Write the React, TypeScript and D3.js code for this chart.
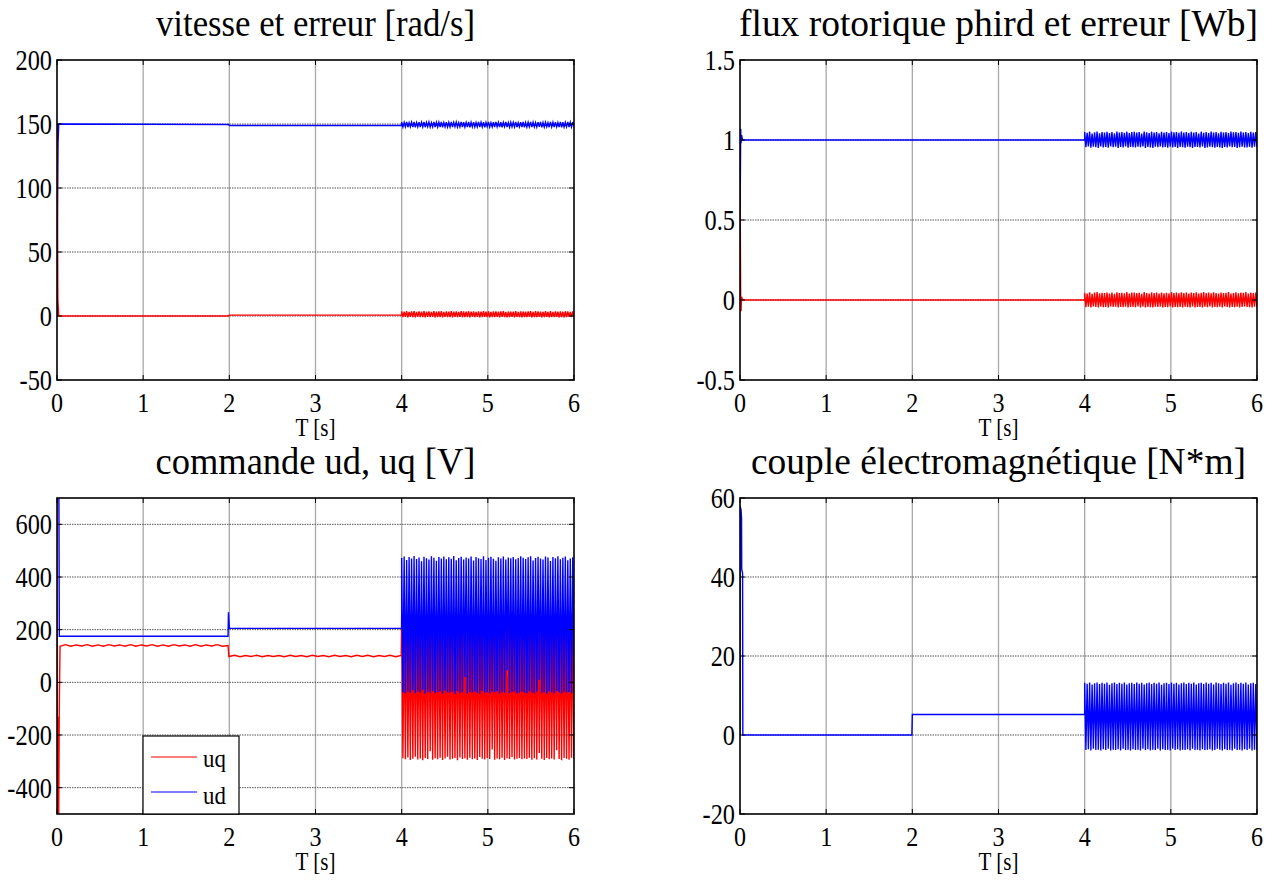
import React from 'react';
import * as d3 from 'd3';

type Pt = [number, number];

const FONT = "'Liberation Serif', 'DejaVu Serif', serif";

// ---------- shared ----------
const timeDomain = [0, 6];
const timeTicks = [0, 1, 2, 3, 4, 5, 6];
const xLabel = 'T [s]';
const titles = [
  'vitesse et erreur [rad/s]',
  'flux rotorique phird et erreur [Wb]',
  'commande ud, uq [V]',
  'couple électromagnétique [N*m]',
];
const legendLabels = ['uq', 'ud'];

// ---------- panel 1 : vitesse et erreur ----------
const speedYDomain = [-50, 200];
const speedYTicks = [-50, 0, 50, 100, 150, 200];
const speedT = [0, 0.003, 0.006, 0.012, 0.02, 1.99, 2.0, 4.0];
const speedV = [0, 0, 82, 135, 150, 149.6, 148.8, 148.8];
const speedOsc = [
  151.5, 147.6, 151.2, 147.8, 151.6, 147.5, 151.0, 147.9, 151.4, 147.6,
  151.7, 147.4, 151.1, 147.8, 151.5, 147.6, 151.3, 147.7, 151.6, 147.5,
  151.2, 147.9, 151.5, 147.6, 151.0, 147.8, 151.7, 147.5, 151.3, 147.7,
  151.4, 147.6, 151.6, 147.4, 151.1, 147.8, 151.5, 147.6, 151.2, 147.7,
  151.6, 147.5, 151.3, 147.9, 151.5, 147.6, 151.0, 147.8, 151.7, 147.5,
  151.4, 147.7, 151.2, 147.6, 151.6, 147.4, 151.3, 147.8, 151.5, 147.6,
  151.1, 147.8, 151.6, 147.5, 151.3, 147.7, 151.5, 147.4, 151.2, 147.9,
  151.7, 147.6, 151.0, 147.7, 151.4, 147.5, 151.6, 147.8, 151.3, 147.6,
  151.5, 147.4, 151.2, 147.9, 151.7, 147.6, 151.1, 147.5, 151.4, 147.8,
  151.3, 147.7, 151.6, 147.5, 151.0, 147.8, 151.5, 147.6, 151.7, 147.4,
  151.2, 147.6, 151.4, 147.9, 151.6, 147.5, 151.3, 147.7, 151.1, 147.6,
  151.5, 147.8, 151.7, 147.4, 151.2, 147.6, 151.4, 147.9, 151.0, 147.5,
  151.6, 147.7, 151.3, 147.5, 151.5, 147.8, 151.1, 147.6, 151.7, 147.4,
  151.4, 147.6, 151.2, 147.8, 151.6, 147.5, 151.3, 147.7, 151.5, 147.6,
];
const speedErrT = [0, 0.003, 0.005, 0.01, 0.02, 1.99, 2.0, 4.0];
const speedErrV = [150, 150, 67, 13, 0, 0, 0.7, 0.7];
const speedErrOsc = [
  3.5, -0.9, 3.3, -0.7, 3.7, -1.0, 3.1, -0.6, 3.5, -0.9,
  3.8, -1.1, 3.2, -0.7, 3.6, -0.9, 3.4, -0.8, 3.7, -1.0,
  3.3, -0.6, 3.6, -0.9, 3.1, -0.7, 3.8, -1.0, 3.4, -0.8,
  3.5, -0.9, 3.7, -1.1, 3.2, -0.7, 3.6, -0.9, 3.3, -0.8,
  3.7, -1.0, 3.4, -0.6, 3.6, -0.9, 3.1, -0.7, 3.8, -1.0,
  3.5, -0.8, 3.3, -0.9, 3.7, -1.1, 3.4, -0.7, 3.6, -0.9,
  3.2, -0.7, 3.6, -1.0, 3.4, -0.8, 3.8, -0.6, 3.3, -0.9,
  3.7, -1.1, 3.1, -0.8, 3.5, -0.9, 3.6, -0.7, 3.4, -1.0,
  3.6, -0.6, 3.8, -0.9, 3.2, -1.1, 3.5, -0.8, 3.3, -0.7,
  3.4, -1.0, 3.7, -0.7, 3.1, -0.9, 3.6, -1.1, 3.5, -0.8,
  3.3, -0.9, 3.5, -0.6, 3.8, -1.0, 3.2, -0.8, 3.7, -0.9,
  3.6, -0.7, 3.4, -1.1, 3.3, -0.9, 3.7, -0.6, 3.1, -1.0,
  3.8, -0.8, 3.2, -0.9, 3.6, -0.7, 3.4, -1.0, 3.5, -0.9,
  3.3, -1.1, 3.7, -0.8, 3.5, -0.6, 3.2, -0.9, 3.6, -0.7,
];

// ---------- panel 2 : flux rotorique ----------
const fluxYDomain = [-0.5, 1.5];
const fluxYTicks = [-0.5, 0, 0.5, 1, 1.5];
const fluxT = [0, 0.004, 0.008, 0.012, 0.018, 0.03, 4.0];
const fluxV = [0.3, 0.75, 1.07, 0.98, 1.03, 1.0, 1.0];
const fluxOsc = [
  1.050, 0.955, 1.045, 0.960, 1.052, 0.952, 1.040, 0.958, 1.048, 0.955,
  1.053, 0.950, 1.042, 0.960, 1.050, 0.954, 1.046, 0.957, 1.051, 0.952,
  1.044, 0.959, 1.049, 0.955, 1.041, 0.958, 1.053, 0.951, 1.047, 0.956,
  1.050, 0.954, 1.045, 0.960, 1.052, 0.952, 1.043, 0.957, 1.049, 0.955,
  1.051, 0.953, 1.046, 0.958, 1.050, 0.955, 1.040, 0.960, 1.053, 0.951,
  1.048, 0.956, 1.044, 0.954, 1.052, 0.950, 1.047, 0.958, 1.050, 0.955,
  1.042, 0.959, 1.051, 0.953, 1.046, 0.956, 1.049, 0.952, 1.044, 0.958,
  1.053, 0.954, 1.048, 0.957, 1.050, 0.951, 1.045, 0.956, 1.052, 0.955,
  1.046, 0.952, 1.050, 0.958, 1.043, 0.955, 1.051, 0.950, 1.047, 0.957,
  1.049, 0.956, 1.041, 0.953, 1.052, 0.959, 1.045, 0.951, 1.050, 0.954,
  1.044, 0.958, 1.053, 0.955, 1.047, 0.952, 1.050, 0.957, 1.042, 0.954,
  1.051, 0.950, 1.046, 0.956, 1.049, 0.953, 1.043, 0.959, 1.052, 0.955,
  1.048, 0.957, 1.050, 0.951, 1.045, 0.955, 1.053, 0.958, 1.046, 0.953,
  1.050, 0.954, 1.044, 0.956, 1.051, 0.952, 1.047, 0.958, 1.049, 0.955,
];
const fluxErrT = [0, 0.004, 0.008, 0.012, 0.018, 0.03, 4.0];
const fluxErrV = [0.73, 0.4, 0.0, -0.07, 0.02, 0.0, 0.0];
const fluxErrOsc = [
  0.045, -0.045, 0.040, -0.042, 0.048, -0.046, 0.038, -0.040, 0.046, -0.044,
  0.049, -0.047, 0.041, -0.041, 0.045, -0.045, 0.043, -0.043, 0.047, -0.046,
  0.040, -0.040, 0.046, -0.044, 0.039, -0.042, 0.048, -0.047, 0.044, -0.043,
  0.045, -0.045, 0.042, -0.041, 0.049, -0.046, 0.040, -0.043, 0.046, -0.044,
  0.047, -0.045, 0.043, -0.040, 0.045, -0.046, 0.038, -0.041, 0.049, -0.047,
  0.044, -0.043, 0.041, -0.045, 0.048, -0.046, 0.043, -0.042, 0.046, -0.044,
  0.040, -0.041, 0.047, -0.046, 0.042, -0.043, 0.045, -0.045, 0.041, -0.040,
  0.049, -0.047, 0.044, -0.043, 0.046, -0.045, 0.042, -0.044, 0.048, -0.046,
  0.043, -0.042, 0.047, -0.045, 0.040, -0.047, 0.046, -0.041, 0.044, -0.046,
  0.048, -0.044, 0.041, -0.043, 0.045, -0.047, 0.049, -0.042, 0.043, -0.045,
  0.046, -0.040, 0.042, -0.046, 0.048, -0.043, 0.044, -0.045, 0.040, -0.042,
  0.047, -0.046, 0.043, -0.041, 0.045, -0.044, 0.049, -0.047, 0.041, -0.043,
  0.044, -0.045, 0.048, -0.042, 0.042, -0.046, 0.046, -0.044, 0.045, -0.041,
  0.049, -0.043, 0.040, -0.045, 0.047, -0.046, 0.043, -0.042, 0.046, -0.045,
];

// ---------- panel 3 : commande ud, uq ----------
const cmdYDomain = [-500, 700];
const cmdYTicks = [-400, -200, 0, 200, 400, 600];
const uqStartT = [0, 0.002, 0.006, 0.009, 0.012, 0.016, 0.02, 0.026];
const uqStartV = [700, -500, -500, -130, -450, -250, -500, -120];
const uqRipple1 = [
  137, 143, 137, 142, 138, 143, 137, 142, 137, 143, 138, 142, 137, 143, 137, 142,
  138, 143, 137, 142, 137, 143, 138, 142, 137, 143, 137, 142, 138, 143, 137, 140,
];
const uqRipple2 = [
  98, 103, 97, 102, 98, 103, 97, 102, 98, 102, 97, 103, 98, 102, 97, 103,
  98, 102, 97, 103, 98, 102, 97, 103, 98, 103, 97, 102, 98, 103, 97, 102,
];
const uqOsc = [
  255, -288, 248, -292, 258, -285, 240, -295, 252, -290, 257, -283, 245, -293, 250, -289, 256, -296, 243, -287,
  253, -291, 258, -262, 247, -294, 251, -288, 255, -292, 242, -286, 257, -295, 249, -289, 254, -283, 246, -293,
  258, -290, 244, -287, 252, -296, 256, -285, 248, -291, 253, -288, 241, -294, 257, -286, 250, -292, 255, -289,
  245, -295, 252, -284, 258, -290, 247, -293, 254, -287, 249, -291, 256, -255, 243, -294, 251, -289, 257, -292,
  246, -286, 253, -295, 255, -288, 248, -291, 258, -284, 244, -293, 252, -290, 256, -287, 250, -292, 254, -289,
  257, -291, 243, -286, 251, -294, 255, -288, 249, -293, 258, -268, 246, -290, 253, -295, 242, -287, 256, -292,
  250, -289, 254, -293, 247, -258, 258, -291, 244, -296, 252, -287, 256, -290, 248, -294, 253, -286, 255, -291,
];
const udT = [0, 0.022, 0.027, 1.985, 1.99, 2.0, 4.0];
const udV = [700, 700, 175, 175, 266, 205, 205];
const udOsc = [
  472, -38, 478, -42, 465, -35, 476, -40, 470, -30, 480, -41, 468, -36, 474, -39, 460, -28, 477, -42,
  471, -37, 466, -40, 479, -33, 473, -41, 462, -38, 476, -35, 470, -42, 478, -31, 467, -39, 475, -40,
  469, -36, 480, -43, 464, -34, 472, -41, 477, -38, 466, 20, 474, -42, 470, -37, 478, -40, 463, -35,
  476, -39, 471, -42, 468, -33, 479, -40, 465, -38, 473, -41, 477, -36, 469, -39, 462, -34, 475, -42,
  470, -37, 478, -40, 466, 45, 474, -41, 471, -38, 476, -35, 467, -42, 472, -39, 479, -36, 473, -40,
  468, -41, 475, -34, 479, -39, 463, -42, 472, -36, 477, 10, 470, -40, 466, -38, 478, -43, 474, -35,
  461, -39, 476, -41, 471, -33, 479, -38, 467, -42, 473, -36, 478, -40, 464, -37, 470, -41, 475, -38,
];

// ---------- panel 4 : couple ----------
const coupleYDomain = [-20, 60];
const coupleYTicks = [-20, 0, 20, 40, 60];
const coupleT = [0, 0.001, 0.012, 0.018, 0.02, 0.03, 0.033, 1.995, 2.0, 4.0];
const coupleV = [0, 58, 57, 55, 42, 41, 0, 0, 5.2, 5.2];
const coupleOsc = [
  13.2, -3.8, 13.0, -3.6, 13.3, -3.9, 12.8, -3.5, 13.1, -3.8, 13.3, -3.7, 12.9, -3.9, 13.2, -3.6, 13.0, -3.8, 13.3, -3.5,
  12.7, -3.9, 13.1, -3.7, 13.3, -3.8, 12.9, -3.6, 13.2, -3.9, 13.0, -3.5, 13.3, -3.8, 12.8, -3.7, 13.1, -3.9, 13.2, -3.6,
  12.9, -3.8, 13.3, -3.7, 13.0, -3.9, 13.2, -3.5, 12.8, -3.8, 13.1, -3.6, 13.3, -3.9, 12.9, -3.7, 13.2, -3.8, 13.0, -3.5,
  13.3, -3.9, 12.7, -3.6, 13.1, -3.8, 13.2, -3.7, 12.9, -3.9, 13.3, -3.5, 13.0, -3.8, 13.2, -3.6, 12.8, -3.9, 13.1, -3.7,
  13.3, -3.8, 12.9, -3.6, 13.2, -3.9, 13.0, -3.5, 13.3, -3.8, 12.8, -3.7, 13.1, -3.9, 13.2, -3.6, 12.9, -3.8, 13.3, -3.7,
  13.0, -3.6, 13.2, -3.9, 12.8, -3.8, 13.3, -3.5, 13.1, -3.7, 12.9, -3.9, 13.2, -3.6, 13.0, -3.8, 13.3, -3.7, 12.7, -3.9,
  13.1, -3.5, 13.3, -3.8, 12.9, -3.7, 13.2, -3.9, 13.0, -3.6, 13.3, -3.8, 12.8, -3.5, 13.1, -3.9, 13.2, -3.7, 12.9, -3.8,
];

// ---------- helpers ----------
const zipPts = (t: number[], v: number[]): Pt[] => t.map((ti, i) => [ti, v[i]] as Pt);
const spread = (vals: number[], t0: number, t1: number): Pt[] =>
  vals.map((v, i) => [t0 + ((t1 - t0) * i) / (vals.length - 1), v] as Pt);

const RED = '#ff0000';
const BLUE = '#0000ff';

type Series = { pts: Pt[]; color: string };
type PanelCfg = {
  x0: number; x1: number; y0: number; y1: number;
  yDomain: number[]; yTicks: number[];
  title: string; titleLen: number;
  series: Series[];
  legend?: boolean;
};

const panels: PanelCfg[] = [
  {
    x0: 57, x1: 574, y0: 60, y1: 380,
    yDomain: speedYDomain, yTicks: speedYTicks,
    title: titles[0], titleLen: 319,
    series: [
      { pts: [...zipPts(speedT, speedV), ...spread(speedOsc, 4.0, 6.0)], color: BLUE },
      { pts: [...zipPts(speedErrT, speedErrV), ...spread(speedErrOsc, 4.0, 6.0)], color: RED },
    ],
  },
  {
    x0: 740, x1: 1257, y0: 60, y1: 380,
    yDomain: fluxYDomain, yTicks: fluxYTicks,
    title: titles[1], titleLen: 519,
    series: [
      { pts: [...zipPts(fluxT, fluxV), ...spread(fluxOsc, 4.0, 6.0)], color: BLUE },
      { pts: [...zipPts(fluxErrT, fluxErrV), ...spread(fluxErrOsc, 4.0, 6.0)], color: RED },
    ],
  },
  {
    x0: 57, x1: 574, y0: 498, y1: 814,
    yDomain: cmdYDomain, yTicks: cmdYTicks,
    title: titles[2], titleLen: 320,
    legend: true,
    series: [
      {
        pts: [
          ...zipPts(uqStartT, uqStartV),
          ...spread(uqRipple1, 0.035, 1.985),
          ...spread(uqRipple2, 1.995, 3.995),
          ...spread(uqOsc, 4.0, 6.0),
        ],
        color: RED,
      },
      { pts: [...zipPts(udT, udV), ...spread(udOsc, 4.0, 6.0)], color: BLUE },
    ],
  },
  {
    x0: 740, x1: 1257, y0: 498, y1: 814,
    yDomain: coupleYDomain, yTicks: coupleYTicks,
    title: titles[3], titleLen: 495,
    series: [{ pts: [...zipPts(coupleT, coupleV), ...spread(coupleOsc, 4.0, 6.0)], color: BLUE }],
  },
];

function STxt(props: {
  x: number; y: number; text: string; size: number; sx?: number;
  anchor?: 'start' | 'middle' | 'end'; len?: number;
}) {
  const { x, y, text, size, sx = 1, anchor = 'middle', len } = props;
  return (
    <text
      transform={`translate(${x},${y}) scale(${sx},1)`}
      fontFamily={FONT}
      fontSize={size}
      textAnchor={anchor}
      fill="#000"
      textLength={len}
      lengthAdjust={len ? 'spacingAndGlyphs' : undefined}
    >
      {text}
    </text>
  );
}

function Panel({ cfg, idx }: { cfg: PanelCfg; idx: number }) {
  const x = d3.scaleLinear().domain(timeDomain).range([cfg.x0, cfg.x1]);
  const y = d3.scaleLinear().domain(cfg.yDomain).range([cfg.y1, cfg.y0]);
  const line = d3.line<Pt>().x((d) => x(d[0])).y((d) => y(d[1]));
  const clipId = `clip-${idx}`;
  const tickLen = 5;
  return (
    <g>
      <defs>
        <clipPath id={clipId}>
          <rect x={cfg.x0} y={cfg.y0} width={cfg.x1 - cfg.x0} height={cfg.y1 - cfg.y0} />
        </clipPath>
      </defs>
      <rect x={cfg.x0} y={cfg.y0} width={cfg.x1 - cfg.x0} height={cfg.y1 - cfg.y0} fill="#fff" />
      {/* grid */}
      {timeTicks.slice(1, -1).map((t) => (
        <line key={'gx' + t} x1={x(t)} x2={x(t)} y1={cfg.y0} y2={cfg.y1} stroke="#a8a8a8" strokeWidth={1.3} />
      ))}
      {cfg.yTicks
        .filter((v) => v !== cfg.yDomain[0] && v !== cfg.yDomain[1])
        .map((v) => (
          <line key={'gy' + v} x1={cfg.x0} x2={cfg.x1} y1={y(v)} y2={y(v)} stroke="#555" strokeWidth={1} strokeDasharray="1.5,1" />
        ))}
      {/* data */}
      <g clipPath={`url(#${clipId})`}>
        {cfg.series.map((s, i) => (
          <path key={i} d={line(s.pts) || ''} fill="none" stroke={s.color} strokeWidth={1.4} strokeLinejoin="miter" />
        ))}
      </g>
      {/* ticks */}
      {timeTicks.map((t) => (
        <g key={'tx' + t}>
          <line x1={x(t)} x2={x(t)} y1={cfg.y1} y2={cfg.y1 - tickLen} stroke="#000" strokeWidth={1} />
          <line x1={x(t)} x2={x(t)} y1={cfg.y0} y2={cfg.y0 + tickLen} stroke="#000" strokeWidth={1} />
        </g>
      ))}
      {cfg.yTicks.map((v) => (
        <g key={'ty' + v}>
          <line x1={cfg.x0} x2={cfg.x0 + tickLen} y1={y(v)} y2={y(v)} stroke="#000" strokeWidth={1} />
          <line x1={cfg.x1} x2={cfg.x1 - tickLen} y1={y(v)} y2={y(v)} stroke="#000" strokeWidth={1} />
        </g>
      ))}
      {/* frame */}
      <rect x={cfg.x0} y={cfg.y0} width={cfg.x1 - cfg.x0} height={cfg.y1 - cfg.y0} fill="none" stroke="#000" strokeWidth={1.6} />
      {/* tick labels */}
      {timeTicks.map((t) => (
        <STxt key={'lx' + t} x={x(t)} y={cfg.y1 + 32} text={String(t)} size={28} sx={0.86} />
      ))}
      {cfg.yTicks.map((v) => (
        <STxt key={'ly' + v} x={cfg.x0 - 5} y={y(v) + 10} text={String(v)} size={29} sx={0.84} anchor="end" />
      ))}
      {/* x label */}
      <STxt x={(cfg.x0 + cfg.x1) / 2} y={cfg.y1 + 56} text={xLabel} size={25} len={40} />
      {/* title */}
      <STxt x={(cfg.x0 + cfg.x1) / 2} y={cfg.y0 - 24} text={cfg.title} size={37} len={cfg.titleLen} />
      {cfg.legend && (
        <g>
          <rect x={143} y={736} width={96} height={78} fill="#fff" stroke="#000" strokeWidth={1.2} />
          <line x1={151} x2={197} y1={757} y2={757} stroke={RED} strokeWidth={1.2} />
          <line x1={151} x2={197} y1={792} y2={792} stroke={BLUE} strokeWidth={1.2} />
          <STxt x={203} y={767} text={legendLabels[0]} size={26} sx={0.88} anchor="start" />
          <STxt x={203} y={804} text={legendLabels[1]} size={26} sx={0.88} anchor="start" />
        </g>
      )}
    </g>
  );
}

export default function App() {
  return (
    <svg
      width={1274}
      height={883}
      viewBox="0 0 1274 883"
      style={{ position: 'absolute', left: 0, top: 0, background: '#fff' }}
    >
      <rect x={0} y={0} width={1274} height={883} fill="#fff" />
      {panels.map((p, i) => (
        <Panel key={i} cfg={p} idx={i} />
      ))}
    </svg>
  );
}
